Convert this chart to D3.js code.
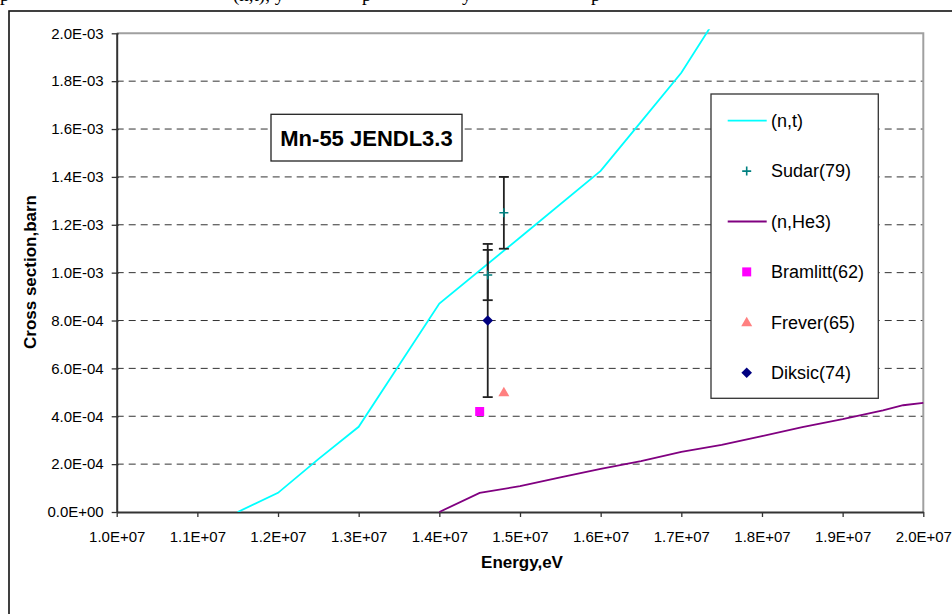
<!DOCTYPE html>
<html>
<head>
<meta charset="utf-8">
<script src="https://cdn.jsdelivr.net/npm/d3@7"></script>
<style>
  body { margin: 0; background: #fff; }
  svg { display: block; }
  text { font-family: "Liberation Sans", Arial, sans-serif; }
</style>
</head>
<body>
<div id="chart"></div>
<script>
// (n,t) evaluated curve, JENDL3.3
const ntEnergy = [1.15e7, 1.2e7, 1.25e7, 1.3e7, 1.4e7, 1.5e7, 1.6e7, 1.65e7, 1.7e7, 1.75e7];
const ntXs     = [0, 0.80e-4, 2.21e-4, 3.56e-4, 8.71e-4, 11.47e-4, 14.25e-4, 16.3e-4, 18.35e-4, 21.0e-4];

// (n,He3) evaluated curve
const he3Energy = [1.4e7, 1.45e7, 1.5e7, 1.55e7, 1.6e7, 1.65e7, 1.7e7, 1.75e7, 1.8e7, 1.85e7, 1.9e7, 1.95e7, 1.975e7, 2.0e7];
const he3Xs     = [0, 0.80e-4, 1.08e-4, 1.45e-4, 1.80e-4, 2.13e-4, 2.51e-4, 2.80e-4, 3.17e-4, 3.55e-4, 3.88e-4, 4.25e-4, 4.46e-4, 4.56e-4];

// measurements
const sudarEnergy = [1.48e7, 1.46e7];
const sudarXs     = [1.25e-3, 0.99e-3];
const sudarErr    = [1.5e-4, 1.05e-4];

const bramlittEnergy = [1.45e7];
const bramlittXs     = [4.2e-4];

const freverEnergy = [1.48e7];
const freverXs     = [5.0e-4];

const diksicEnergy = [1.46e7];
const diksicXs     = [8.0e-4];
const diksicErr    = [3.2e-4];

const xTicks = [1.0e7, 1.1e7, 1.2e7, 1.3e7, 1.4e7, 1.5e7, 1.6e7, 1.7e7, 1.8e7, 1.9e7, 2.0e7];
const yTicks = [0, 2e-4, 4e-4, 6e-4, 8e-4, 1.0e-3, 1.2e-3, 1.4e-3, 1.6e-3, 1.8e-3, 2.0e-3];

const legendNames = ["(n,t)", "Sudar(79)", "(n,He3)", "Bramlitt(62)", "Frever(65)", "Diksic(74)"];
const legendKinds = ["nt", "sudar", "he3", "bramlitt", "frever", "diksic"];

document.addEventListener("DOMContentLoaded", function () {
    const width = 952, height = 614;
    const svg = d3.select("#chart")
                  .append("svg")
                  .attr("width", width)
                  .attr("height", height);

    svg.append("rect").attr("width", width).attr("height", height).attr("fill", "#fff");

    // bits of the page text above the chart (cropped)
    const topText = [["p", 0], ["(n,t), y", 233], ["p", 362], ["y", 462], ["p", 591]];
    svg.selectAll("text.page")
        .data(topText)
        .enter().append("text")
        .attr("class", "page")
        .attr("x", d => d[1])
        .attr("y", 0.5)
        .style("font-family", "'Liberation Serif', 'Times New Roman', serif")
        .style("font-size", "19px")
        .text(d => d[0]);

    // chart frame
    svg.append("rect")
        .attr("x", 9).attr("y", 11)
        .attr("width", 1000).attr("height", 700)
        .attr("fill", "none")
        .attr("stroke", "#111")
        .attr("stroke-width", 1.6);

    const x = d3.scaleLinear().domain([1.0e7, 2.0e7]).range([116.7, 923.3]);
    const y = d3.scaleLinear().domain([0, 2.0e-3]).range([512, 33.3]);

    const sci = v => {
        const s = v.toExponential(1).toUpperCase();
        return s.replace(/E([+-])(\d)$/, "E$10$2");
    };

    // gridlines
    svg.append("g")
        .selectAll("line")
        .data(yTicks.filter(v => v > 0 && v < 2.0e-3))
        .enter().append("line")
        .attr("x1", x(1.0e7))
        .attr("x2", x(2.0e7))
        .attr("y1", d => y(d))
        .attr("y2", d => y(d))
        .style("stroke", "#333")
        .style("stroke-width", 1)
        .style("stroke-dasharray", "7,5");

    // plot area border (top / right)
    svg.append("path")
        .attr("d", `M${x(1.0e7)},${y(2.0e-3)}H${x(2.0e7)}V${y(0)}`)
        .attr("fill", "none")
        .style("stroke", "#a0a0a0")
        .style("stroke-width", 2);

    // axes
    const xAxis = svg.append("g")
        .attr("transform", `translate(0,${y(0)})`)
        .call(d3.axisBottom(x).tickValues(xTicks).tickFormat(sci).tickSize(5).tickPadding(14).tickSizeOuter(0));
    const yAxis = svg.append("g")
        .attr("transform", `translate(${x(1.0e7)},0)`)
        .call(d3.axisLeft(y).tickValues(yTicks).tickFormat(sci).tickSize(5).tickPadding(8).tickSizeOuter(0));
    yAxis.selectAll(".tick line").attr("x1", 2);

    [xAxis, yAxis].forEach(a => {
        a.select(".domain").style("stroke", "#333").style("stroke-width", 2);
        a.selectAll(".tick line").style("stroke", "#333").style("stroke-width", 1.3);
        a.selectAll("text")
            .style("font-family", "'Liberation Sans', Arial, sans-serif")
            .style("font-size", "15px")
            .style("fill", "#000");
    });

    // axis titles
    svg.append("text")
        .attr("x", 522).attr("y", 568)
        .attr("text-anchor", "middle")
        .style("font-weight", "bold")
        .style("font-size", "17px")
        .text("Energy,eV");
    svg.append("text")
        .attr("transform", "translate(36,272) rotate(-90)")
        .attr("text-anchor", "middle")
        .style("font-weight", "bold")
        .style("font-size", "17px")
        .text("Cross section,barn");

    // curves
    svg.append("clipPath").attr("id", "plotClip")
        .append("rect")
        .attr("x", x(1.0e7)).attr("y", y(2.0e-3) - 4)
        .attr("width", x(2.0e7) - x(1.0e7)).attr("height", y(0) - y(2.0e-3) + 4);

    const line = d3.line().x(d => x(d[0])).y(d => y(d[1]));

    svg.append("path")
        .datum(d3.zip(he3Energy, he3Xs))
        .attr("d", line)
        .attr("fill", "none")
        .style("stroke", "#800080")
        .style("stroke-width", 1.8);

    svg.append("path")
        .datum(d3.zip(ntEnergy, ntXs))
        .attr("clip-path", "url(#plotClip)")
        .attr("d", line)
        .attr("fill", "none")
        .style("stroke", "#00ffff")
        .style("stroke-width", 1.8);

    // title box
    svg.append("rect")
        .attr("x", 271).attr("y", 114.3)
        .attr("width", 191).attr("height", 46.7)
        .attr("fill", "#fff")
        .style("stroke", "#222")
        .style("stroke-width", 1.3);
    svg.append("text")
        .attr("x", 366.5).attr("y", 145.5)
        .attr("text-anchor", "middle")
        .style("font-weight", "bold")
        .style("font-size", "22px")
        .text("Mn-55 JENDL3.3");

    // error bars
    const errors = d3.zip(sudarEnergy, sudarXs, sudarErr).concat(d3.zip(diksicEnergy, diksicXs, diksicErr));
    const eb = svg.append("g").style("stroke", "#222").style("stroke-width", 1.8);
    errors.forEach(d => {
        const cx = x(d[0]);
        eb.append("line").attr("x1", cx).attr("x2", cx).attr("y1", y(d[1] - d[2])).attr("y2", y(d[1] + d[2]));
        eb.append("line").attr("x1", cx - 5).attr("x2", cx + 5).attr("y1", y(d[1] - d[2])).attr("y2", y(d[1] - d[2]));
        eb.append("line").attr("x1", cx - 5).attr("x2", cx + 5).attr("y1", y(d[1] + d[2])).attr("y2", y(d[1] + d[2]));
    });

    // marker drawing
    const marker = {
        sudar: g => g.append("path").attr("d", "M-4.5,0H4.5M0,-4.5V4.5")
                     .style("stroke", "#008080").style("stroke-width", 1.6).attr("fill", "none"),
        bramlitt: g => g.append("path").attr("d", d3.symbol(d3.symbolSquare, 81)())
                     .attr("fill", "#ff00ff"),
        frever: g => g.append("path").attr("d", "M0,-5.5L5.5,4L-5.5,4Z")
                     .attr("fill", "#ff8080"),
        diksic: g => g.append("path").attr("d", "M0,-5.3L5.3,0L0,5.3L-5.3,0Z")
                     .attr("fill", "#000080")
    };

    const pts = [
        ["sudar", sudarEnergy, sudarXs],
        ["bramlitt", bramlittEnergy, bramlittXs],
        ["frever", freverEnergy, freverXs],
        ["diksic", diksicEnergy, diksicXs]
    ];
    pts.forEach(([kind, ex, ys]) => {
        ex.forEach((e, i) => {
            const g = svg.append("g").attr("transform", `translate(${x(e)},${y(ys[i])})`);
            marker[kind](g);
        });
    });

    // legend
    const legend = svg.append("g");
    legend.append("rect")
        .attr("x", 711).attr("y", 94)
        .attr("width", 167.3).attr("height", 304.3)
        .attr("fill", "#fff")
        .style("stroke", "#333")
        .style("stroke-width", 1.3);

    const rowY = d3.scaleLinear().domain([0, 5]).range([120.7, 372.7]);
    legendKinds.forEach((kind, i) => {
        const ly = rowY(i);
        if (kind === "nt" || kind === "he3") {
            legend.append("line")
                .attr("x1", 727.7).attr("x2", 766.7)
                .attr("y1", ly).attr("y2", ly)
                .style("stroke", kind === "nt" ? "#00ffff" : "#800080")
                .style("stroke-width", 1.8);
        } else {
            marker[kind](legend.append("g").attr("transform", `translate(746.7,${ly})`));
        }
        legend.append("text")
            .attr("x", 771)
            .attr("y", ly)
            .attr("dy", "0.35em")
            .style("font-size", "18px")
            .text(legendNames[i]);
    });
});
</script>
</body>
</html>
